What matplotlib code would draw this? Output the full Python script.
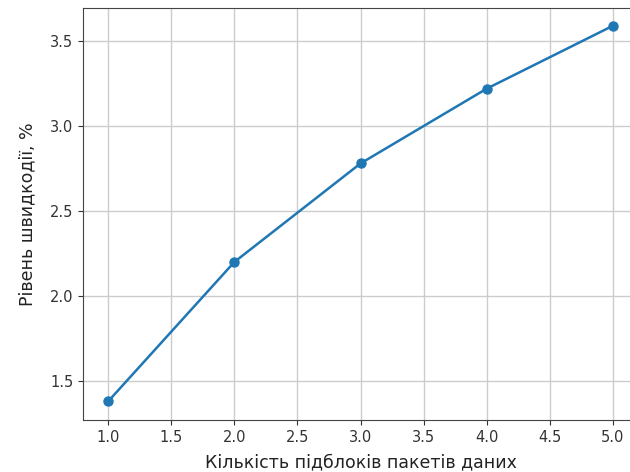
import matplotlib
matplotlib.use("Agg")
import matplotlib.pyplot as plt

blocks = [1, 2, 3, 4, 5]
speed = [1.38, 2.20, 2.78, 3.22, 3.59]

fig = plt.figure(figsize=(6.3, 4.72), dpi=100)
ax = fig.add_axes([83/630, 52/472, 555/630, 412/472])
ax.plot(blocks, speed, marker='o', color='#1f77b4', linewidth=1.8, markersize=6.5)
ax.set_xlim(0.8, 5.2)
ax.set_ylim(1.27, 3.695)
ax.set_xticks([1.0, 1.5, 2.0, 2.5, 3.0, 3.5, 4.0, 4.5, 5.0])
ax.set_yticks([1.5, 2.0, 2.5, 3.0, 3.5])
ax.grid(True, color='#cccccc', linewidth=1.0)
ax.tick_params(labelsize=10.5, colors='#333333')
for s in ax.spines.values():
    s.set_color('#444444')
ax.set_xlabel('Кількість підблоків пакетів даних', fontsize=12.5, color='#222222', labelpad=6)
ax.set_ylabel('Рівень швидкодії, %', fontsize=12.5, color='#222222', labelpad=10)
fig.savefig('out.png', dpi=100)
